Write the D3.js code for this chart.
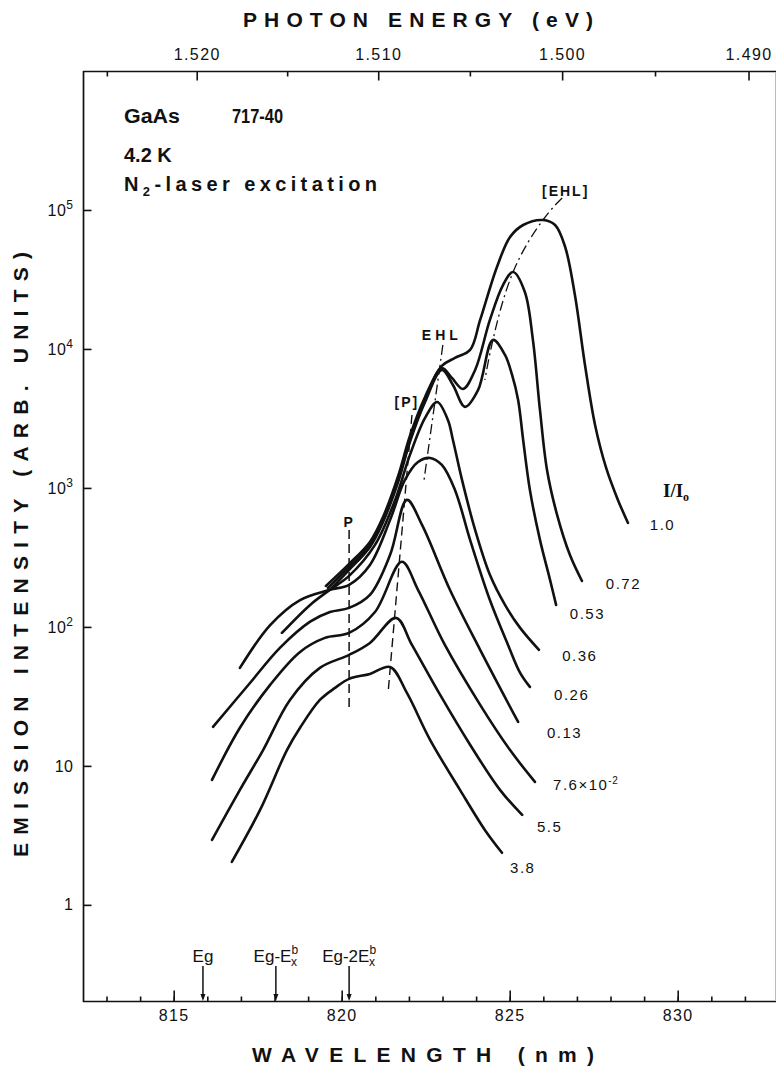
<!DOCTYPE html>
<html><head><meta charset="utf-8">
<script src="https://cdn.jsdelivr.net/npm/d3@7/dist/d3.min.js"></script>
<style>
html,body{margin:0;padding:0;background:#fff;}
svg{display:block;font-family:"Liberation Sans",Arial,sans-serif;}
</style></head><body>
<div id="chart"></div>
<script>
// spectra: [wavelength nm, emission intensity arb. units]
const spec100=[[819.53,197],[820.22,284],[820.84,409],[821.23,618],[821.68,1220],[822.03,2366],[822.48,4516],[822.98,7550],[823.37,8617],[823.82,9840],[824.12,16180],[824.62,38900],[825.01,63900],[825.40,77980],[825.99,84700],[826.35,77980],[826.65,54160],[826.94,24450],[827.24,7671],[827.54,2838],[827.87,1393],[828.22,820],[828.52,560]];
const spec072=[[819.59,191],[820.22,270],[820.84,389],[821.23,589],[821.68,1142],[822.03,2213],[822.48,4299],[822.98,7299],[823.28,6186],[823.61,5154],[823.97,7063],[824.41,16180],[824.80,28840],[825.10,35770],[825.45,25700],[825.69,11610],[825.90,3640],[826.11,1346],[826.41,640],[826.79,330],[827.15,214]];
const spec053=[[819.65,185],[820.22,257],[820.84,376],[821.23,569],[821.68,1105],[822.03,2143],[822.48,4155],[822.98,7063],[823.31,5510],[823.67,3832],[824.06,5072],[824.50,11610],[824.86,9055],[825.07,6497],[825.25,4299],[825.40,2213],[825.60,968],[825.90,423],[826.20,218],[826.38,144]];
const spec036=[[818.22,90.5],[819.06,144],[819.65,185],[820.22,233],[820.99,389],[821.59,820],[822.03,1728],[822.48,3191],[822.84,4155],[823.16,3085],[823.31,2213],[823.58,1142],[823.97,499],[824.41,237],[824.86,144],[825.31,98.4],[825.87,68.4]];
const spec026=[[816.97,50.7],[817.87,103],[818.76,156],[819.65,185],[820.22,201],[820.84,279],[821.44,589],[821.88,1142],[822.27,1538],[822.63,1644],[822.98,1463],[823.37,968],[823.82,423],[824.41,156],[824.95,74.2],[825.31,46.7],[825.60,37.0]];
const spec013=[[816.17,19.1],[817.27,39.5],[818.16,70.6],[819.06,109],[819.65,128],[820.22,137],[820.84,170],[821.44,330],[821.94,820],[822.39,542],[823.22,185],[824.12,68.4],[825.25,20.7]];
const spec0076=[[816.14,7.93],[816.97,18.8],[817.87,38.3],[818.76,66.1],[819.50,83.4],[820.22,90.5],[820.99,128],[821.79,294],[822.27,185],[823.07,74.2],[824.12,27.5],[825.01,13.0],[825.75,7.67]];
const spec0055=[[816.14,2.94],[816.97,6.72],[817.66,13.0],[818.46,29.8],[819.35,50.7],[820.22,62.9],[820.84,76.7],[821.62,116],[822.09,74.2],[822.93,32.4],[823.82,14.2],[824.71,6.72],[825.37,4.44]];
const spec0038=[[816.73,2.04],[817.57,4.82],[818.37,13.0],[818.76,18.8],[819.35,29.8],[819.80,36.4],[820.22,42.3],[820.84,45.9],[821.44,51.5],[821.94,33.5],[822.63,15.4],[823.52,6.72],[824.26,3.46],[824.77,2.37]];
const spectra=[spec100,spec072,spec053,spec036,spec026,spec013,spec0076,spec0055,spec0038];

// I/I0 labels and where they sit (wavelength, intensity)
const ratioLabels=["1.0","0.72","0.53","0.36","0.26","0.13","7.6×10|-2","5.5","3.8"];
const ratioLambda=[829.17,827.86,826.79,826.56,826.32,826.11,826.29,825.81,825.01];
const ratioIntensity=[499,188,114,56.9,29.8,15.9,6.72,3.35,1.70];

// axes
const wlMajor=[815,820,825,830];
const wlMinor=d3.range(813,833);
const evMajor=[1.520,1.510,1.500,1.490];
const evMinor=[1.525,1.515,1.505,1.495];
const intensityTicks=[1,10,100,1e3,1e4,1e5];

// guide lines
const pLine=[[820.22,499],[820.22,26.1]];
const pBracketLine=[[822.09,3350],[821.38,33.5]];
const ehlLine=[[823.01,10690],[822.45,1142]];
const ehlBracketLine=[[826.56,122000],[825.99,84700],[825.10,35770],[824.50,11610],[824.26,5980]];
const annotations=[["[EHL]",825.96,126000,"start"],["EHL",822.98,11600,"middle"],["[P]",821.94,3830,"middle"],["P",820.22,525,"middle"]];

// band-edge markers
const edgeLambda=[815.87,818.04,820.22];

const hc=1239.84;
const svg=d3.select("#chart").append("svg").attr("width",776).attr("height",1072);
const x=d3.scaleLinear().domain([812.3,832.925]).range([83,776]);
const y=d3.scaleLog().domain([0.2,1e6]).range([1002,71]);
const ink="#111";

// frame
svg.append("path").attr("d","M83,1001.5H776M83,71.5H776M83.5,71V1002")
  .attr("stroke",ink).attr("stroke-width",1.7).attr("fill","none");
svg.append("line").attr("x1",775.5).attr("x2",775.5).attr("y1",72).attr("y2",1001)
  .attr("stroke","#bbb").attr("stroke-width",1);

function styleAxis(s){
  s.select(".domain").remove();
  s.attr("font-family",null).attr("font-size",null);
  s.selectAll("line").attr("stroke",ink).attr("stroke-width",1.6);
  s.selectAll("text").attr("fill",ink).attr("font-size",16).attr("letter-spacing",1.4);
}
// bottom
svg.append("g").attr("transform","translate(0,1001.5)")
  .call(d3.axisBottom(x).tickValues(wlMinor).tickSize(-5).tickFormat("")).call(styleAxis);
svg.append("g").attr("transform","translate(0,1001.5)")
  .call(d3.axisBottom(x).tickValues(wlMajor).tickSize(-11).tickPadding(8).tickFormat(d3.format("d"))).call(styleAxis);
// top (photon energy)
svg.append("g").attr("transform","translate(0,71.5)")
  .call(d3.axisTop(x).tickValues(evMinor.map(e=>hc/e)).tickSize(-5).tickFormat("")).call(styleAxis);
svg.append("g").attr("transform","translate(0,71.5)")
  .call(d3.axisTop(x).tickValues(evMajor.map(e=>hc/e)).tickSize(-9).tickPadding(12).tickFormat(d=>(hc/d).toFixed(3))).call(styleAxis);
// left (log)
svg.append("g").attr("transform","translate(83.5,0)")
  .call(d3.axisLeft(y).tickValues(intensityTicks).tickSize(-8).tickPadding(10))
  .call(styleAxis)
  .call(s=>s.selectAll(".tick text").each(function(d){
    const t=d3.select(this),e=Math.round(Math.log10(d));
    t.text(null).attr("letter-spacing",0.5);
    if(e<2){t.text(d);return;}
    t.append("tspan").text("10");
    t.append("tspan").attr("dy","-0.55em").attr("font-size",12).text(e);
  }));

// axis titles
svg.append("text").attr("x",418).attr("y",27).attr("text-anchor","middle")
  .attr("font-size",21).attr("font-weight",700).attr("fill",ink)
  .attr("textLength",350).attr("lengthAdjust","spacing").text("PHOTON ENERGY (eV)");
svg.append("text").attr("x",423).attr("y",1062).attr("text-anchor","middle")
  .attr("font-size",21).attr("font-weight",700).attr("fill",ink)
  .attr("textLength",342).attr("lengthAdjust","spacing").text("WAVELENGTH  (nm)");
svg.append("text").attr("transform","translate(28,554.5) rotate(-90)").attr("text-anchor","middle")
  .attr("font-size",21).attr("font-weight",700).attr("fill",ink)
  .attr("textLength",605).attr("lengthAdjust","spacing").text("EMISSION INTENSITY (ARB. UNITS)");

// sample text block
const info=svg.append("g").attr("fill",ink).attr("font-weight",700).attr("font-size",20);
info.append("text").attr("x",124).attr("y",123).attr("textLength",56).attr("lengthAdjust","spacingAndGlyphs").text("GaAs");
info.append("text").attr("x",232).attr("y",123).attr("textLength",51).attr("lengthAdjust","spacingAndGlyphs").text("717-40");
info.append("text").attr("x",124).attr("y",162).text("4.2 K");
const n2=info.append("text").attr("x",124).attr("y",191).attr("textLength",253).attr("lengthAdjust","spacing");
n2.append("tspan").text("N");
n2.append("tspan").attr("dy",5).attr("font-size",13).text("2");
n2.append("tspan").attr("dy",-5).text("-laser excitation");

// guide lines
const gl=d3.line().x(d=>x(d[0])).y(d=>y(d[1]));
svg.append("path").attr("d",gl(pLine)).attr("stroke",ink).attr("stroke-width",1.5).attr("stroke-dasharray","9 5").attr("fill","none");
svg.append("path").attr("d",gl(pBracketLine)).attr("stroke",ink).attr("stroke-width",1.4).attr("stroke-dasharray","9 5").attr("fill","none");
svg.append("path").attr("d",gl(ehlLine)).attr("stroke",ink).attr("stroke-width",1.3).attr("stroke-dasharray","10 4 2 4").attr("fill","none");
svg.append("path").attr("d",gl.curve(d3.curveNatural)(ehlBracketLine)).attr("stroke",ink).attr("stroke-width",1.3).attr("stroke-dasharray","10 4 2 4").attr("fill","none");

// spectra
const line=d3.line().x(d=>x(d[0])).y(d=>y(d[1])).curve(d3.curveCatmullRom.alpha(0.5));
svg.append("g").selectAll("path").data(spectra).join("path")
  .attr("d",line).attr("fill","none").attr("stroke",ink).attr("stroke-width",2.6)
  .attr("stroke-linejoin","round").attr("stroke-linecap","round");

// annotations
svg.append("g").selectAll("text").data(annotations).join("text")
  .attr("x",d=>x(d[1])).attr("y",d=>y(d[2])).attr("text-anchor",d=>d[3])
  .attr("font-size",14).attr("font-weight",700).attr("letter-spacing",d=>d[0]==="EHL"?4:2)
  .attr("fill",ink).text(d=>d[0]);

// I/I0 heading and ratio labels
const hdr=svg.append("text").attr("x",663).attr("y",497).attr("fill",ink)
  .attr("font-family","'Liberation Serif','DejaVu Serif',serif").attr("font-weight",700).attr("font-size",19);
hdr.append("tspan").text("I/I");
hdr.append("tspan").attr("dy",4).attr("font-size",12).text("o");
svg.append("g").selectAll("text").data(ratioLabels).join("text")
  .attr("x",(d,i)=>x(ratioLambda[i])).attr("y",(d,i)=>y(ratioIntensity[i]))
  .attr("font-size",15).attr("letter-spacing",1.5).attr("fill",ink)
  .each(function(d){
    const t=d3.select(this),p=d.split("|");
    t.append("tspan").text(p[0]);
    if(p[1]){t.append("tspan").attr("dy",-6).attr("font-size",10).attr("letter-spacing",0.5).text(p[1]);}
  });

// band-edge markers
const edge=svg.append("g").attr("fill",ink);
edgeLambda.forEach((l,i)=>{
  const px=x(l);
  edge.append("line").attr("x1",px).attr("x2",px).attr("y1",966).attr("y2",996).attr("stroke",ink).attr("stroke-width",1.5);
  edge.append("path").attr("d",`M${px-2.5},994L${px+2.5},994L${px},1001Z`);
  const t=edge.append("text").attr("x",px).attr("y",962).attr("text-anchor","middle").attr("font-size",17);
  if(i===0){t.text("Eg");return;}
  t.append("tspan").text(i===1?"Eg-E":"Eg-2E");
  t.append("tspan").attr("dy",-8).attr("font-size",12).text("b");
  t.append("tspan").attr("dx",-7).attr("dy",12).attr("font-size",12).text("x");
});
</script>
</body></html>
